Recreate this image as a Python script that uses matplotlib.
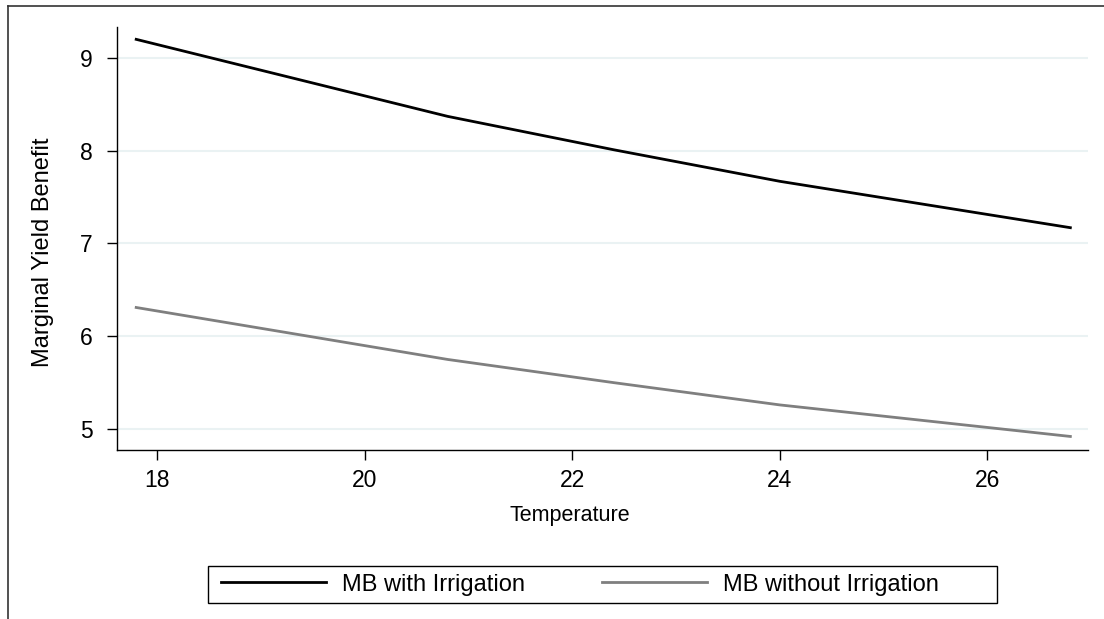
import matplotlib
matplotlib.use('Agg')
import matplotlib.pyplot as plt
from matplotlib.lines import Line2D
from matplotlib.patches import Rectangle

plt.rcParams['font.family'] = ['Liberation Sans', 'DejaVu Sans']

# values
temperature = [17.8, 20.8, 22.4, 24.0, 26.8]
mb_with_irrigation = [9.20, 8.37, 8.01, 7.67, 7.17]
mb_without_irrigation = [6.31, 5.75, 5.50, 5.26, 4.92]

x_ticks = [18, 20, 22, 24, 26]
y_ticks = [5, 6, 7, 8, 9]

W, H = 1104, 619
fig = plt.figure(figsize=(W / 100, H / 100), dpi=100)
ax = fig.add_axes([117 / W, 1 - 450 / H, (1088 - 117) / W, (450 - 27) / H])

ax.plot(temperature, mb_with_irrigation, color='black', linewidth=2, label='MB with Irrigation', zorder=3)
ax.plot(temperature, mb_without_irrigation, color='#7f7f7f', linewidth=2, label='MB without Irrigation', zorder=3)

ax.set_xlim(17.615, 26.97)
ax.set_ylim(4.774, 9.333)
ax.set_xticks(x_ticks)
ax.set_yticks(y_ticks)
ax.yaxis.grid(True, color='#eaf2f3', linewidth=1.5)
ax.set_axisbelow(True)

for side in ['top', 'right']:
    ax.spines[side].set_visible(False)
for side in ['left', 'bottom']:
    ax.spines[side].set_linewidth(1.0)
    ax.spines[side].set_color('black')

ax.tick_params(axis='both', direction='out', length=7.5, width=1, labelsize=16.5, colors='black')
ax.tick_params(axis='y', pad=10)
ax.tick_params(axis='x', pad=6)

ax.set_xlabel('Temperature', fontsize=15.5)
ax.xaxis.set_label_coords((570 - 117) / 971, (450 - 515) / 423)
ax.xaxis.label.set_verticalalignment('center')
ax.set_ylabel('Marginal Yield Benefit', fontsize=17)
ax.yaxis.set_label_coords((43 - 117) / 971, (450 - 252) / 423)
ax.yaxis.label.set_verticalalignment('center')

# legend box drawn separately so its padding matches
fig.add_artist(Rectangle((208 / W, 1 - 603 / H), (997 - 208) / W, (603 - 566) / H,
                         transform=fig.transFigure, facecolor='white', edgecolor='black', linewidth=1.0))
leg = fig.legend(loc='center left', bbox_to_anchor=(221 / W, 1 - 584.5 / H), ncol=2,
                 fontsize=17, frameon=False, handlelength=4.45, handletextpad=0.68,
                 columnspacing=3.26, borderpad=0, borderaxespad=0)

# outer graph region border (left and top visible)
fig.add_artist(Line2D([8 / W, 8 / W], [0, 1 - 6 / H], color='#333333', linewidth=1.2))
fig.add_artist(Line2D([8 / W, 1], [1 - 6 / H, 1 - 6 / H], color='#333333', linewidth=1.2))

fig.savefig('out.png', dpi=100, facecolor='white')
